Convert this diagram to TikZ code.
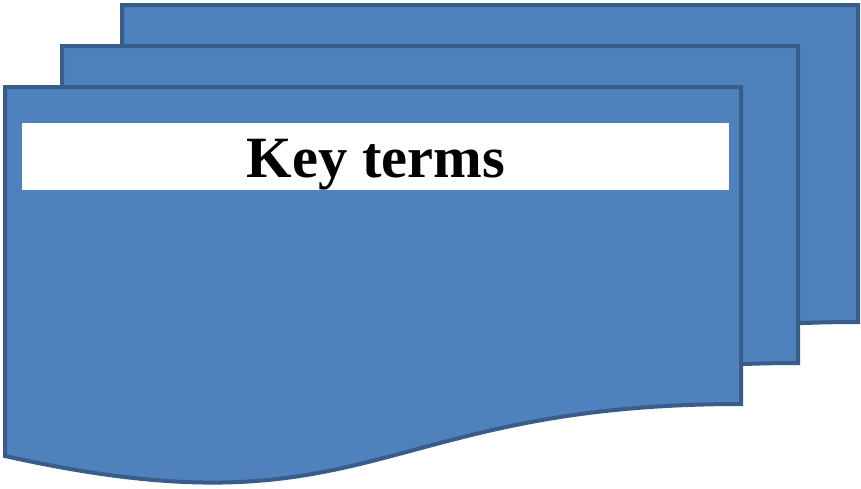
\documentclass[tikz,border=0pt]{standalone}
\usepackage{fontspec}
\setmainfont{Liberation Serif}
\definecolor{sheetfill}{HTML}{4F81BD}
\definecolor{sheetline}{HTML}{385D8A}
\tikzset{
  sheet/.style={fill=sheetfill,draw=sheetline,line width=4pt,line join=miter},
  banner/.style={fill=white,inner sep=0pt,minimum width=707pt,minimum height=67pt},
  heading/.style={inner sep=0pt,anchor=base,font=\fontsize{58.5}{60}\selectfont\bfseries}
}
\begin{document}
\begin{tikzpicture}[x=1pt,y=-1pt]
\useasboundingbox (0,0) rectangle (861,488);
% three stacked pages, back one first
\foreach \dx/\dy in {117/82,57/41,0/0}{
\draw[sheet,shift={(\dx,-\dy)}] (5,87) -- (741,87) -- (741,404)
  .. controls (373,404) and (373,538) .. (5,456) -- cycle;}
\node[banner] (bar) at (375.5,156.5) {};
\node[heading] (title) at (376,177) {Key terms};
\end{tikzpicture}
\end{document}
